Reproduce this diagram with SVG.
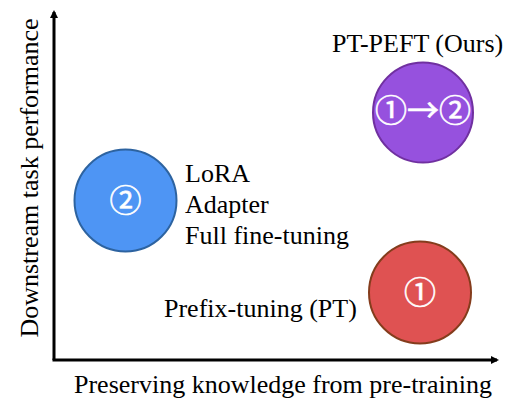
<svg xmlns="http://www.w3.org/2000/svg" width="510" height="399" viewBox="0 0 510 399">
<defs>
<marker id="ah" markerWidth="8" markerHeight="8" refX="6" refY="4" orient="auto" markerUnits="userSpaceOnUse">
<path d="M0,0 L8,4 L0,8 Z" fill="#000"/>
</marker>
<style>
.lbl{font-family:"Liberation Serif","Times New Roman",serif;font-size:26px;fill:#000}
.num{font-family:"Noto Sans CJK SC","DejaVu Sans",sans-serif;font-size:32px;fill:#fff;stroke:#fff;stroke-width:0.6;text-anchor:middle}
</style>
</defs>
<rect width="510" height="399" fill="#fff"/>
<g id="axes">
<line x1="54" y1="360" x2="54" y2="12" stroke="#000" stroke-width="3" marker-end="url(#ah)"/>
<line x1="52.5" y1="360" x2="497" y2="360" stroke="#000" stroke-width="3" marker-end="url(#ah)"/>
<text class="lbl" x="283" y="393" text-anchor="middle">Preserving knowledge from pre-training</text>
<text class="lbl" transform="translate(38,178) rotate(-90)" text-anchor="middle">Downstream task performance</text>
</g>
<g id="ptpeft">
<circle cx="423" cy="112.5" r="50" fill="#9651de" stroke="#7030a0" stroke-width="2"/>
<text class="num" x="423" y="122" font-size="26">①→②</text>
<text class="lbl" x="332" y="52">PT-PEFT (Ours)</text>
</g>
<g id="peft">
<circle cx="125.5" cy="200.5" r="51" fill="#4e95f4" stroke="#2d63a0" stroke-width="2"/>
<text class="num" x="125.5" y="212">②</text>
<text class="lbl" x="185" y="182">LoRA</text>
<text class="lbl" x="185" y="213">Adapter</text>
<text class="lbl" x="185" y="244">Full fine-tuning</text>
</g>
<g id="pt">
<circle cx="420" cy="292.5" r="51" fill="#df5252" stroke="#843c1c" stroke-width="2"/>
<text class="num" x="420" y="304">①</text>
<text class="lbl" x="164" y="317">Prefix-tuning (PT)</text>
</g>
</svg>
